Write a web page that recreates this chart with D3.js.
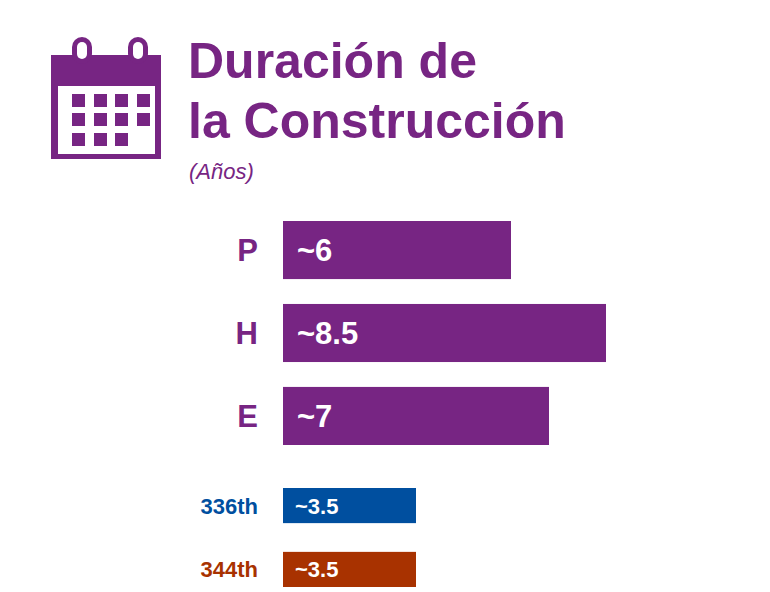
<!DOCTYPE html>
<html><head><meta charset="utf-8">
<script src="https://cdn.jsdelivr.net/npm/d3@7"></script>
<style>body{margin:0;background:#fff}</style>
</head><body><div id="chart"></div>
<script>
const mainCats = ["P", "H", "E"];
const mainValues = [6, 8.5, 7];
const mainLabels = ["~6", "~8.5", "~7"];
const subCats = ["336th", "344th"];
const subValues = [3.5, 3.5];
const subLabels = ["~3.5", "~3.5"];
const subColors = ["#004f9f", "#a83200"];
const purple = "#772583";

const W = 770, H = 592;
const svg = d3.select("#chart").append("svg").attr("width", W).attr("height", H);
const font = "Liberation Sans, Arial, sans-serif";

// calendar icon
const cal = svg.append("g");
cal.append("rect").attr("x", 51).attr("y", 55).attr("width", 110).attr("height", 104).attr("fill", purple);
cal.append("rect").attr("x", 58).attr("y", 86).attr("width", 97).attr("height", 68).attr("fill", "#fff");
[82, 138].forEach(cx => {
  cal.append("rect").attr("x", cx - 10).attr("y", 37).attr("width", 20).attr("height", 27).attr("rx", 10).attr("fill", purple);
  cal.append("rect").attr("x", cx - 5).attr("y", 42).attr("width", 10).attr("height", 17).attr("rx", 5).attr("fill", "#fff");
});
const cols = [72, 94, 115, 137], rows = [94, 113, 133];
rows.forEach((ry, i) => cols.forEach((cx, j) => {
  if (i === 2 && j === 3) return;
  cal.append("rect").attr("x", cx).attr("y", ry).attr("width", 13).attr("height", 13).attr("fill", purple);
}));

// title
const title = svg.append("text").attr("font-family", font).attr("font-weight", "bold").attr("font-size", 50).attr("fill", purple);
title.append("tspan").attr("x", 188).attr("y", 78).text("Duración de");
title.append("tspan").attr("x", 188).attr("y", 138).text("la Construcción");
svg.append("text").attr("x", 189).attr("y", 179).attr("font-family", font).attr("font-style", "italic")
  .attr("font-size", 22).attr("fill", purple).text("(Años)");

const x = d3.scaleLinear().domain([0, 1]).range([283, 321]);

const yMain = d3.scaleBand().domain(mainCats).range([221, 445]).paddingInner(0.3);
mainCats.forEach((c, i) => {
  svg.append("rect").attr("x", x(0)).attr("y", yMain(c)).attr("width", x(mainValues[i]) - x(0))
    .attr("height", yMain.bandwidth()).attr("fill", purple);
  svg.append("text").attr("x", x(0) + 14).attr("y", yMain(c) + yMain.bandwidth() / 2 + 11)
    .attr("font-family", font).attr("font-weight", "bold").attr("font-size", 31).attr("fill", "#fff").text(mainLabels[i]);
  svg.append("text").attr("x", 258).attr("y", yMain(c) + yMain.bandwidth() / 2 + 11).attr("text-anchor", "end")
    .attr("font-family", font).attr("font-weight", "bold").attr("font-size", 31).attr("fill", purple).text(c);
});

const ySub = d3.scaleBand().domain(subCats).range([488, 587]).paddingInner(0.45);
subCats.forEach((c, i) => {
  svg.append("rect").attr("x", x(0)).attr("y", ySub(c)).attr("width", x(subValues[i]) - x(0))
    .attr("height", ySub.bandwidth()).attr("fill", subColors[i]);
  svg.append("text").attr("x", x(0) + 12).attr("y", ySub(c) + ySub.bandwidth() / 2 + 8)
    .attr("font-family", font).attr("font-weight", "bold").attr("font-size", 22).attr("fill", "#fff").text(subLabels[i]);
  svg.append("text").attr("x", 258).attr("y", ySub(c) + ySub.bandwidth() / 2 + 8).attr("text-anchor", "end")
    .attr("font-family", font).attr("font-weight", "bold").attr("font-size", 22).attr("fill", subColors[i]).text(c);
});
</script></body></html>
